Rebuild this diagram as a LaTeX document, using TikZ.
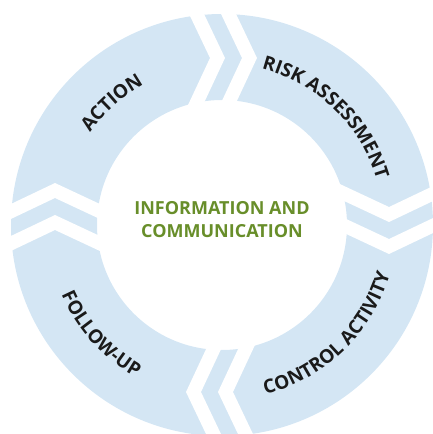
\documentclass[tikz,border=0pt]{standalone}
\usepackage{fontspec}
\setmainfont{Open Sans}
\usetikzlibrary{decorations.text}
\definecolor{ringblue}{RGB}{212,230,244}
\definecolor{infogreen}{RGB}{104,142,42}
\definecolor{labelink}{RGB}{26,26,26}

\begin{document}
\begin{tikzpicture}[font=\bfseries\fontsize{18}{23}\selectfont,
  gapstripe/.style={fill=white},
  ringlabel/.style={decorate, decoration={text effects along path, text={#1},
    text align=center, text effects/.cd, text along path,
    characters={text=labelink, inner sep=0pt, anchor=base,
      font=\bfseries\fontsize{19}{19}\selectfont}}}]
\useasboundingbox (-222pt,-209pt) rectangle (211pt,225pt);
\clip (-222pt,-209pt) rectangle (211pt,225pt);
\begin{scope}[x=1pt, y=1pt]
\fill[ringblue, even odd rule] (0,0) circle[radius=211] (0,0) circle[radius=125];
% white chevrons between the steps
\foreach \ang/\off in {90/-12, 0/-18, -90/-11, 180/-5} {
  \begin{scope}[rotate=\ang-90]
    \foreach \t in {\off, \off+32} {
      \fill[gapstripe] (\t-30,230) -- (\t,167) -- (\t-29,105) -- (\t-14,105)
        -- (\t+15,167) -- (\t-15,230) -- cycle;
    }
  \end{scope}
}
\end{scope}
\path[ringlabel=ACTION] (182:161pt) arc[start angle=182, end angle=82, radius=161pt];
\path[ringlabel=RISK ASSESSMENT] (101:161pt) arc[start angle=101, end angle=-9, radius=161pt];
\path[ringlabel=CONTROL ACTIVITY] (-101:175pt) arc[start angle=-101, end angle=9, radius=175pt];
\path[ringlabel=FOLLOW-UP] (-183:175pt) arc[start angle=-183, end angle=-93, radius=175pt];
\node[text=infogreen, align=center] (info) at (0pt,5pt) {INFORMATION AND\\COMMUNICATION};
\end{tikzpicture}
\end{document}
